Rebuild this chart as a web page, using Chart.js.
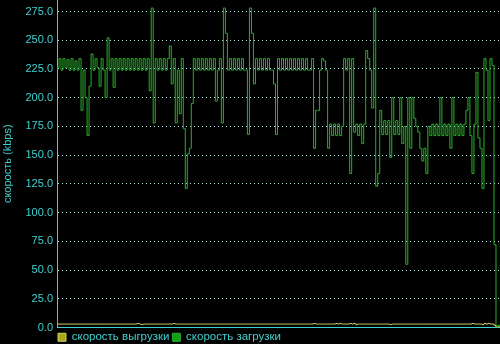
<!DOCTYPE html>
<html>
<head>
<meta charset="utf-8">
<script src="https://cdn.jsdelivr.net/npm/chart.js@4/dist/chart.umd.min.js"></script>
<style>
  html, body { margin: 0; padding: 0; background: #000; }
  #wrap { width: 500px; height: 344px; }
</style>
</head>
<body>
<div id="wrap"><canvas id="speedChart" width="500" height="344"></canvas></div>
<script>
// download speed samples (kbps) left to right
const downloadSpeed = [
  226, 234, 224, 234, 226, 233, 224, 234, 224, 232,
  224, 234, 189, 224, 200, 167, 210, 238, 224, 234,
  226, 210, 234, 224, 200, 252, 224, 234, 209, 234,
  224, 234, 224, 234, 224, 234, 224, 234, 224, 234,
  224, 234, 224, 234, 224, 234, 206, 278, 178, 234,
  224, 234, 224, 234, 224, 234, 245, 212, 234, 178,
  224, 186, 234, 173, 121, 151, 156, 195, 234, 224,
  234, 224, 234, 224, 234, 224, 234, 224, 234, 197,
  224, 234, 178, 278, 256, 224, 234, 224, 234, 224,
  234, 224, 234, 224, 224, 168, 278, 256, 212, 234,
  224, 234, 224, 234, 224, 234, 224, 224, 212, 168,
  234, 224, 234, 224, 234, 224, 234, 224, 234, 224,
  234, 224, 234, 224, 234, 224, 224, 234, 156, 189,
  189, 224, 234, 232, 224, 156, 177, 167, 177, 167,
  177, 167, 175, 234, 224, 234, 134, 234, 170, 177,
  167, 177, 160, 177, 241, 234, 224, 191, 278, 123,
  134, 189, 168, 180, 168, 180, 148, 200, 168, 180,
  168, 200, 160, 175, 55, 200, 156, 200, 182, 175,
  170, 156, 145, 156, 134, 175, 167, 177, 167, 177,
  167, 200, 167, 177, 167, 177, 156, 200, 167, 177,
  167, 177, 167, 177, 189, 200, 167, 134, 177, 222,
  165, 156, 121, 234, 224, 180, 234, 228, 72, 0,
  2, 1
];

// upload speed samples (kbps)
const uploadSpeed = [
  3, 3, 3, 3, 3, 3, 3, 3, 3, 3,
  3, 3, 3, 3, 3, 3, 3, 3, 3, 3,
  3, 3, 3, 3, 3, 3, 3, 3, 3, 3,
  3, 3, 3, 3, 3, 3, 3, 3, 3, 3,
  3.5, 3, 2.5, 3, 3, 3, 3, 3, 3, 3,
  3, 3, 3, 3, 3, 3, 3, 3, 3.5, 3,
  3, 3, 3, 3, 3, 3, 3, 3, 3, 3,
  3, 3, 3, 3, 3, 3, 3, 3, 3, 3,
  3, 3, 3, 3, 3, 3, 3, 3, 3, 3,
  3, 3, 3, 3, 3, 3, 3, 3, 3, 3,
  3, 3, 3, 3, 3, 3, 3, 3, 3, 3,
  3, 3, 3, 3, 3, 3, 3, 3, 3, 3,
  3, 3, 3, 3, 3, 3, 3, 3, 3.5, 3,
  3, 3, 3, 3, 3, 3, 3, 3, 3, 3.5,
  3, 3.5, 3, 3, 3, 3, 3.5, 3, 3.5, 2.5,
  3, 3, 3, 3, 3, 3, 3, 3, 3, 3,
  3, 3, 3, 3, 3, 3, 2.5, 3, 3, 3,
  3, 3, 3, 3, 3, 3, 3, 3, 3, 3,
  3, 3, 3, 3, 3, 3, 3, 3, 3, 3,
  3, 3, 3, 3, 3, 3, 3, 3, 3, 3,
  3, 3, 3, 3, 3, 3, 3, 3.5, 3, 3,
  3, 3, 2.5, 3.5, 3, 3.5, 3, 3, 2, 0.5,
  0.5, 0.5
];

const sampleLabels = downloadSpeed.map((v, i) => String(i));
const yTickValues = [0, 25, 50, 75, 100, 125, 150, 175, 200, 225, 250, 275];

const cyan = '#3fd0d0';
const fontFamily = '"Liberation Sans", Arial, sans-serif';
const legendPad = 3;

// legend sits under the plot, starting at the y axis
const legendShift = {
  id: 'legendShift',
  afterLayout(chart) {
    chart.legend.left = chart.chartArea.left + 1 - legendPad;
  }
};

const ctx = document.getElementById('speedChart').getContext('2d');

new Chart(ctx, {
  type: 'line',
  data: {
    labels: sampleLabels,
    datasets: [
      {
        label: 'скорость выгрузки',
        data: uploadSpeed,
        borderColor: '#d0d060',
        backgroundColor: '#a8a818',
        borderWidth: 1,
        pointRadius: 0,
        stepped: true
      },
      {
        label: 'скорость загрузки',
        data: downloadSpeed,
        borderColor: '#28b028',
        backgroundColor: '#14a014',
        borderWidth: 1,
        pointRadius: 0,
        stepped: true
      }
    ]
  },
  plugins: [legendShift],
  options: {
    responsive: false,
    animation: false,
    layout: { padding: { top: 0, left: 0, right: 0, bottom: -9 } },
    plugins: {
      tooltip: { enabled: false },
      legend: {
        position: 'bottom',
        align: 'start',
        labels: {
          color: cyan,
          boxWidth: 8,
          boxHeight: 8,
          padding: legendPad,
          font: { family: fontFamily, size: 11.5 }
        }
      }
    },
    scales: {
      x: {
        type: 'category',
        offset: false,
        grid: { display: false },
        ticks: { display: false },
        border: { display: true, color: cyan, width: 1 },
        afterFit: (scale) => { scale.height = 1; }
      },
      y: {
        min: 0,
        max: 285,
        ticks: {
          color: cyan,
          padding: 4,
          font: { family: fontFamily, size: 11 },
          callback: (v) => v.toFixed(1)
        },
        afterBuildTicks: (scale) => {
          scale.ticks = yTickValues.map(v => ({ value: v }));
        },
        grid: {
          color: '#b0e8e8',
          lineWidth: 1,
          drawTicks: false
        },
        border: { display: true, color: cyan, width: 1, dash: [1, 3] },
        title: {
          display: true,
          text: 'скорость (kbps)',
          color: cyan,
          padding: { top: 1, bottom: 0 },
          font: { family: fontFamily, size: 11 }
        },
        afterFit: (scale) => {
          scale.width = 57;
          scale.paddingTop = 0;
          scale.paddingBottom = 0;
        }
      }
    }
  }
});
</script>
</body>
</html>
